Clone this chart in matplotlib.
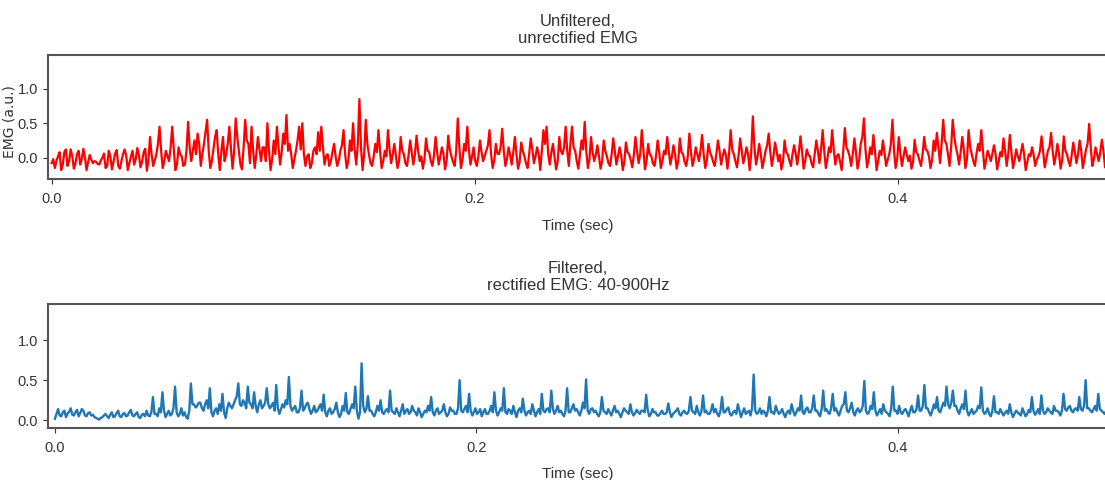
import numpy as np
import matplotlib.pyplot as plt

# sampling step (sec)
dt = 0.00075

# unfiltered, unrectified EMG (a.u.) in five pieces of ~0.1 s
red_seg1 = [-0.08, -0.02, -0.15, -0.05, 0.02, 0.08, -0.18, -0.10, 0.08, 0.12,
            -0.12, -0.05, 0.12, 0.02, -0.16, -0.08, 0.05, 0.10, -0.10, -0.02,
            0.13, 0.00, -0.18, -0.06, 0.04, -0.03, -0.08, -0.05, -0.06, -0.09,
            -0.10, -0.04, 0.0, 0.06, -0.15, -0.12, 0.10, 0.02, -0.17, -0.06,
            0.06, 0.11, -0.12, -0.16, -0.05, 0.05, 0.12, 0.03, -0.18, -0.08,
            0.02, 0.10, -0.10, -0.02, 0.14, 0.04, -0.14, -0.06, 0.08, 0.13,
            -0.19, -0.05, 0.30, 0.05, -0.12, -0.04, 0.05, 0.20, 0.45, 0.10,
            -0.15, -0.05, 0.10, 0.02, -0.05, 0.15, 0.45, 0.12, -0.18, -0.10,
            0.15, 0.05, 0.02, -0.12, -0.10, 0.10, 0.52, 0.15, -0.05, 0.10,
            0.25, 0.05, 0.35, 0.20, -0.12, 0.05, 0.20, 0.38, 0.55, 0.10,
            -0.15, -0.05, 0.12, 0.30, 0.40, 0.05, -0.18, 0.10, 0.30, -0.05,
            0.05, 0.20, 0.45, 0.15, -0.16, 0.08, 0.57, 0.30, 0.10, -0.10,
            -0.17, 0.15, 0.55, 0.25, 0.20, -0.08, 0.45, 0.10, -0.15, 0.05,
            0.30, 0.12, -0.05, 0.15]
red_seg2 = [0.15, -0.05, 0.50, 0.10, -0.18, -0.02, 0.25, 0.05, 0.45, 0.15,
            -0.10, 0.08, 0.35, 0.20, 0.62, 0.10, 0.20, 0.05, -0.15, -0.02,
            0.10, 0.25, 0.45, 0.12, 0.50, 0.05, -0.12, 0.02, 0.05, -0.15,
            -0.08, 0.10, 0.15, 0.05, 0.37, 0.10, 0.45, 0.15, -0.10, 0.02,
            0.05, -0.12, -0.05, 0.08, 0.20, 0.02, -0.12, -0.04, 0.10, 0.18,
            0.40, 0.05, -0.15, -0.05, 0.25, 0.10, 0.50, 0.12, -0.10, 0.20,
            0.85, 0.15, -0.18, 0.05, 0.55, 0.20, 0.05, -0.08, -0.12, 0.02,
            0.20, 0.08, 0.40, 0.10, -0.15, -0.05, 0.10, 0.02, 0.40, 0.12,
            -0.08, 0.05, 0.20, 0.02, -0.15, -0.05, 0.30, 0.10, 0.05, -0.08,
            -0.12, 0.04, 0.25, 0.08, -0.10, 0.05, 0.32, 0.10, -0.05, 0.02,
            -0.16, -0.02, 0.28, 0.10, 0.08, -0.05, -0.12, 0.03, 0.30, 0.08,
            -0.10, 0.02, 0.15, 0.05, -0.17, -0.04, 0.32, 0.12, 0.02, -0.06,
            -0.12, 0.10, 0.57, 0.15, -0.15, -0.03, 0.20, 0.10, 0.45, 0.12,
            -0.10, 0.02, 0.15, -0.05]
red_seg3 = [-0.12, 0.02, 0.25, 0.08, -0.05, 0.03, 0.10, 0.18, 0.40, 0.05,
            -0.15, -0.04, 0.20, 0.06, 0.05, 0.15, 0.42, 0.10, -0.12, -0.02,
            0.15, 0.04, -0.10, 0.08, 0.30, 0.05, -0.16, -0.06, 0.22, 0.10,
            0.02, -0.08, -0.15, 0.05, 0.28, 0.12, -0.08, 0.02, 0.15, 0.05,
            -0.18, 0.10, 0.40, 0.20, 0.45, 0.05, -0.10, 0.08, 0.20, 0.02,
            -0.17, -0.05, 0.30, 0.10, 0.05, 0.15, 0.45, 0.10, -0.12, 0.20,
            0.45, 0.15, 0.10, -0.05, -0.16, 0.05, 0.25, 0.12, 0.52, 0.10,
            -0.15, -0.02, 0.30, 0.08, -0.05, 0.04, 0.18, 0.02, -0.16, -0.05,
            0.25, 0.10, 0.02, -0.08, -0.12, 0.05, 0.28, 0.10, -0.10, 0.02,
            0.15, 0.04, -0.18, -0.06, 0.22, 0.08, 0.05, -0.03, -0.14, 0.04,
            0.30, 0.10, -0.08, 0.05, 0.40, 0.12, -0.17, -0.05, 0.20, 0.05,
            0.02, -0.08, -0.12, 0.03, 0.25, 0.08, -0.15, -0.05, 0.10, 0.05,
            0.30, 0.10, -0.10, 0.02, 0.18, 0.05, -0.16, -0.04, 0.28, 0.08,
            0.05, -0.06, -0.12, 0.02]
red_seg4 = [0.35, 0.08, -0.12, -0.02, 0.15, 0.05, -0.05, 0.10, 0.33, 0.05,
            -0.15, -0.04, 0.20, 0.08, 0.02, -0.06, -0.12, 0.05, 0.25, 0.10,
            -0.10, 0.02, 0.12, 0.04, -0.16, 0.05, 0.40, 0.12, 0.05, -0.05,
            -0.14, 0.03, 0.28, 0.10, -0.08, 0.02, 0.15, 0.05, -0.18, 0.08,
            0.60, 0.15, -0.10, 0.02, 0.20, 0.06, -0.15, -0.04, 0.10, 0.18,
            0.35, 0.08, -0.12, 0.02, 0.22, 0.10, -0.05, 0.04, -0.17, -0.06,
            0.25, 0.08, 0.05, -0.04, -0.12, 0.05, 0.18, 0.06, -0.10, 0.08,
            0.31, 0.10, -0.16, -0.05, 0.12, 0.04, 0.02, -0.08, -0.14, 0.05,
            0.25, 0.10, -0.08, 0.12, 0.40, 0.10, -0.15, -0.02, 0.15, 0.08,
            0.40, 0.12, -0.10, 0.03, 0.05, -0.06, -0.18, 0.10, 0.43, 0.15,
            0.10, 0.02, -0.12, 0.05, 0.28, 0.08, -0.16, -0.04, 0.20, 0.30,
            0.57, 0.12, -0.14, -0.02, 0.15, 0.05, 0.33, 0.10, -0.18, -0.05,
            0.10, 0.04, 0.25, 0.08, -0.12, -0.03, 0.05, 0.20, 0.55, 0.10,
            -0.15, -0.02, 0.30, 0.06]
red_seg5 = [-0.12, 0.02, 0.15, 0.05, -0.05, 0.03, -0.16, -0.06, 0.26, 0.08,
            0.05, -0.04, -0.12, 0.05, 0.30, 0.12, 0.10, 0.02, -0.15, -0.03,
            0.25, 0.10, 0.36, 0.15, -0.08, 0.20, 0.55, 0.25, 0.20, 0.05,
            -0.12, 0.15, 0.55, 0.30, 0.15, 0.05, -0.10, 0.08, 0.30, 0.12,
            -0.15, -0.02, 0.40, 0.15, 0.05, -0.05, -0.12, 0.06, 0.20, 0.10,
            0.40, 0.12, -0.16, -0.04, 0.10, 0.03, -0.05, 0.06, 0.18, 0.05,
            -0.17, -0.05, 0.08, 0.02, 0.28, 0.10, -0.12, 0.05, 0.33, 0.08,
            -0.15, -0.04, 0.12, 0.02, -0.05, 0.08, 0.20, 0.05, -0.18, -0.06,
            0.05, 0.02, 0.15, 0.04, -0.12, -0.03, 0.02, 0.10, 0.31, 0.08,
            -0.14, -0.02, 0.10, 0.15, 0.36, 0.10, -0.10, 0.03, 0.20, 0.06,
            -0.16, -0.04, 0.31, 0.10, 0.05, -0.05, -0.12, 0.04, 0.22, 0.08,
            -0.08, 0.05, 0.25, 0.10, -0.15, -0.03, 0.12, 0.20, 0.49, 0.15,
            -0.12, -0.02, 0.15, 0.05, -0.05, 0.08, 0.26, 0.10, -0.14, -0.03,
            0.10, 0.04, -0.08, 0.05, 0.18, 0.06]

# filtered (40-900 Hz), rectified EMG
blue_seg1 = [0.02, 0.08, 0.14, 0.06, 0.05, 0.10, 0.12, 0.04, 0.08, 0.11,
             0.15, 0.07, 0.06, 0.10, 0.13, 0.05, 0.09, 0.14, 0.12, 0.06,
             0.05, 0.09, 0.10, 0.06, 0.07, 0.04, 0.03, 0.02, 0.01, 0.03,
             0.04, 0.06, 0.08, 0.05, 0.03, 0.07, 0.10, 0.04, 0.05, 0.09,
             0.12, 0.05, 0.04, 0.08, 0.09, 0.05, 0.06, 0.10, 0.13, 0.06,
             0.05, 0.08, 0.10, 0.04, 0.03, 0.07, 0.08, 0.05, 0.12, 0.06,
             0.05, 0.10, 0.29, 0.08, 0.08, 0.05, 0.15, 0.10, 0.35, 0.12,
             0.04, 0.08, 0.12, 0.06, 0.08, 0.15, 0.42, 0.10, 0.05, 0.08,
             0.15, 0.06, 0.10, 0.04, 0.02, 0.12, 0.46, 0.20, 0.20, 0.16,
             0.18, 0.22, 0.22, 0.15, 0.12, 0.20, 0.25, 0.15, 0.40, 0.10,
             0.05, 0.12, 0.15, 0.08, 0.20, 0.12, 0.33, 0.10, 0.03, 0.15,
             0.22, 0.18, 0.15, 0.20, 0.25, 0.30, 0.46, 0.20, 0.18, 0.25,
             0.22, 0.15, 0.42, 0.22, 0.20, 0.15, 0.35, 0.18, 0.10, 0.20,
             0.25, 0.15, 0.18, 0.22]
blue_seg2 = [0.40, 0.20, 0.15, 0.18, 0.22, 0.12, 0.44, 0.15, 0.08, 0.14,
             0.20, 0.16, 0.25, 0.20, 0.54, 0.18, 0.12, 0.15, 0.18, 0.10,
             0.10, 0.15, 0.37, 0.12, 0.15, 0.20, 0.22, 0.14, 0.08, 0.12,
             0.18, 0.10, 0.12, 0.16, 0.20, 0.12, 0.32, 0.10, 0.05, 0.12,
             0.15, 0.08, 0.10, 0.14, 0.22, 0.10, 0.04, 0.08, 0.18, 0.12,
             0.34, 0.10, 0.08, 0.14, 0.20, 0.15, 0.42, 0.12, 0.02, 0.10,
             0.71, 0.18, 0.10, 0.14, 0.30, 0.12, 0.12, 0.08, 0.05, 0.10,
             0.18, 0.12, 0.25, 0.10, 0.08, 0.12, 0.14, 0.10, 0.37, 0.12,
             0.10, 0.08, 0.15, 0.10, 0.05, 0.12, 0.20, 0.08, 0.12, 0.14,
             0.08, 0.10, 0.18, 0.12, 0.10, 0.06, 0.15, 0.10, 0.04, 0.08,
             0.12, 0.10, 0.18, 0.12, 0.29, 0.10, 0.06, 0.12, 0.15, 0.08,
             0.10, 0.12, 0.20, 0.10, 0.05, 0.08, 0.16, 0.12, 0.12, 0.08,
             0.08, 0.15, 0.50, 0.12, 0.10, 0.14, 0.18, 0.10, 0.33, 0.12,
             0.06, 0.10, 0.15, 0.08]
blue_seg3 = [0.10, 0.14, 0.05, 0.10, 0.14, 0.08, 0.08, 0.12, 0.18, 0.10,
             0.35, 0.12, 0.06, 0.10, 0.15, 0.12, 0.40, 0.10, 0.08, 0.14,
             0.12, 0.08, 0.18, 0.10, 0.04, 0.12, 0.15, 0.10, 0.27, 0.12,
             0.06, 0.10, 0.12, 0.08, 0.20, 0.12, 0.05, 0.10, 0.14, 0.08,
             0.33, 0.12, 0.10, 0.14, 0.15, 0.10, 0.37, 0.14, 0.08, 0.12,
             0.18, 0.10, 0.12, 0.08, 0.05, 0.12, 0.40, 0.10, 0.10, 0.15,
             0.20, 0.12, 0.14, 0.10, 0.06, 0.12, 0.22, 0.15, 0.51, 0.12,
             0.08, 0.14, 0.15, 0.10, 0.12, 0.08, 0.05, 0.10, 0.29, 0.12,
             0.10, 0.08, 0.14, 0.10, 0.06, 0.12, 0.18, 0.10, 0.12, 0.08,
             0.04, 0.10, 0.15, 0.12, 0.10, 0.08, 0.20, 0.10, 0.06, 0.09,
             0.13, 0.10, 0.08, 0.12, 0.12, 0.10, 0.32, 0.12, 0.05, 0.08,
             0.14, 0.10, 0.10, 0.06, 0.06, 0.09, 0.12, 0.08, 0.08, 0.10,
             0.21, 0.10, 0.04, 0.08, 0.10, 0.12, 0.15, 0.08, 0.06, 0.10,
             0.12, 0.09, 0.08, 0.12]
blue_seg4 = [0.29, 0.12, 0.10, 0.08, 0.18, 0.10, 0.06, 0.12, 0.31, 0.10,
             0.12, 0.08, 0.08, 0.12, 0.20, 0.10, 0.14, 0.08, 0.05, 0.12,
             0.29, 0.10, 0.10, 0.14, 0.16, 0.08, 0.06, 0.10, 0.12, 0.08,
             0.20, 0.12, 0.04, 0.10, 0.15, 0.08, 0.10, 0.12, 0.06, 0.15,
             0.57, 0.12, 0.08, 0.10, 0.15, 0.08, 0.12, 0.10, 0.05, 0.12,
             0.29, 0.10, 0.10, 0.08, 0.18, 0.12, 0.08, 0.10, 0.14, 0.08,
             0.04, 0.10, 0.12, 0.08, 0.20, 0.12, 0.06, 0.10, 0.15, 0.12,
             0.31, 0.10, 0.08, 0.14, 0.16, 0.10, 0.10, 0.15, 0.31, 0.12,
             0.12, 0.08, 0.05, 0.14, 0.37, 0.12, 0.14, 0.10, 0.08, 0.15,
             0.33, 0.12, 0.15, 0.10, 0.06, 0.12, 0.18, 0.20, 0.35, 0.12,
             0.10, 0.15, 0.22, 0.10, 0.06, 0.12, 0.15, 0.10, 0.12, 0.18,
             0.49, 0.12, 0.08, 0.10, 0.18, 0.14, 0.35, 0.12, 0.06, 0.10,
             0.14, 0.08, 0.20, 0.12, 0.10, 0.08, 0.05, 0.15, 0.42, 0.12,
             0.12, 0.08, 0.18, 0.10]
blue_seg5 = [0.08, 0.12, 0.14, 0.10, 0.05, 0.12, 0.18, 0.10, 0.10, 0.14,
             0.31, 0.12, 0.12, 0.18, 0.44, 0.15, 0.15, 0.10, 0.06, 0.12,
             0.20, 0.15, 0.29, 0.12, 0.10, 0.16, 0.22, 0.18, 0.42, 0.20,
             0.15, 0.22, 0.37, 0.18, 0.18, 0.12, 0.08, 0.15, 0.20, 0.14,
             0.37, 0.12, 0.06, 0.10, 0.14, 0.08, 0.10, 0.12, 0.18, 0.15,
             0.41, 0.12, 0.08, 0.10, 0.15, 0.08, 0.05, 0.12, 0.30, 0.10,
             0.10, 0.08, 0.14, 0.10, 0.06, 0.09, 0.12, 0.08, 0.20, 0.10,
             0.04, 0.08, 0.12, 0.10, 0.08, 0.06, 0.15, 0.10, 0.05, 0.08,
             0.13, 0.10, 0.29, 0.12, 0.07, 0.10, 0.14, 0.08, 0.31, 0.12,
             0.08, 0.10, 0.15, 0.12, 0.10, 0.08, 0.18, 0.12, 0.12, 0.10,
             0.06, 0.12, 0.33, 0.14, 0.12, 0.16, 0.18, 0.12, 0.10, 0.14,
             0.15, 0.12, 0.29, 0.14, 0.12, 0.18, 0.50, 0.15, 0.15, 0.12,
             0.10, 0.14, 0.18, 0.12, 0.33, 0.14, 0.12, 0.10, 0.08, 0.12,
             0.15, 0.10, 0.18, 0.14, 0.12, 0.10]

xtick_vals = [0.0, 0.2, 0.4]
ytick_vals = [0.0, 0.5, 1.0]

raw = np.array(red_seg1 + red_seg2 + red_seg3 + red_seg4 + red_seg5)
filt = np.array(blue_seg1 + blue_seg2 + blue_seg3 + blue_seg4 + blue_seg5)
t_raw = np.arange(len(raw)) * dt
t_filt = np.arange(len(filt)) * dt

plt.rcParams['font.family'] = ['Liberation Sans', 'DejaVu Sans']

fig = plt.figure(figsize=(11.05, 4.8), dpi=100)
ax1 = fig.add_axes([0.0434, 0.627, 0.9593, 0.2583])
ax2 = fig.add_axes([0.0434, 0.1083, 0.9593, 0.2583])

ax1.plot(t_raw, raw, color='red', linewidth=1.6)
ax1.set_xlim(-0.00175, 0.4994)
ax1.set_ylim(-0.31, 1.49)
ax1.set_title('Unfiltered,\nunrectified EMG', fontsize=12, color='#333333', pad=8.5)
ax1.set_xlabel('Time (sec)', fontsize=11, color='#333333', labelpad=10)
ax1.set_ylabel('EMG (a.u.)', fontsize=10, family='DejaVu Sans', color='#333333')
ax1.yaxis.set_label_coords(-0.030, 0.46)

ax2.plot(t_filt, filt, color='#1f77b4', linewidth=1.7)
ax2.set_xlim(-0.0033, 0.4996)
ax2.set_ylim(-0.096, 1.45)
ax2.set_title('Filtered,\nrectified EMG: 40-900Hz', fontsize=12, color='#333333', pad=10)
ax2.set_xlabel('Time (sec)', fontsize=11, color='#333333', labelpad=9)

for ax in (ax1, ax2):
    ax.set_xticks(xtick_vals)
    ax.set_yticks(ytick_vals)
    ax.tick_params(labelsize=10.5, colors='#333333')
    ax.tick_params(axis='x', pad=5.5)
    for s in ax.spines.values():
        s.set_color('#555555')
        s.set_linewidth(1.5)

fig.savefig('out.png', dpi=100)
